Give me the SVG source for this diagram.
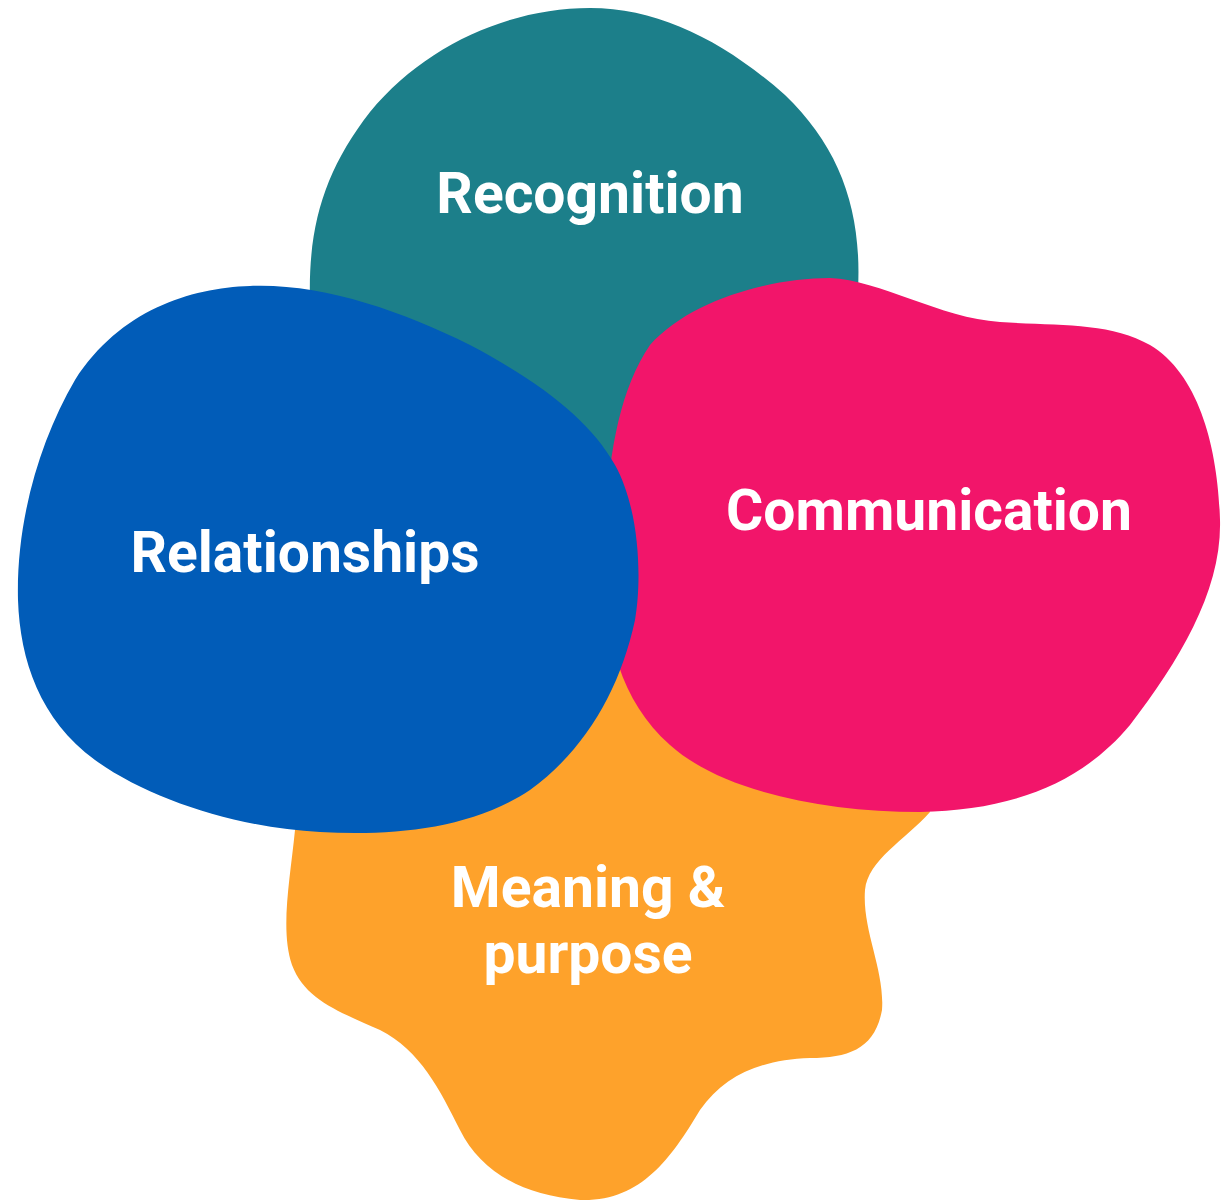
<svg xmlns="http://www.w3.org/2000/svg" width="1224" height="1201" viewBox="0 0 1224 1201">
<style>
.lbl{font-family:Roboto,"Liberation Sans",sans-serif;font-weight:700;font-size:57px;fill:#ffffff;text-anchor:middle}
</style>
<rect width="1224" height="1201" fill="#ffffff"/>
<g id="recognition">
<path fill="#1c7f8a" d="M 310 300 C 308 225, 325 170, 370 112 C 425 45, 510 8, 590 8 C 660 8, 725 42, 785 95 C 840 148, 862 210, 858 290 L 858 420 C 800 500, 620 520, 460 480 C 360 450, 310 400, 310 300 Z"/>
<text class="lbl" x="590" y="213">Recognition</text>
</g>
<g id="meaning">
<path fill="#fea22b" d="M 300 800 L 295 830 C 290 880, 280 930, 292 965 C 305 1000, 340 1012, 380 1030 C 420 1050, 440 1090, 460 1130 C 480 1170, 520 1195, 580 1200 C 640 1202, 670 1160, 700 1110 C 725 1075, 760 1060, 810 1058 C 850 1058, 875 1048, 882 1010 C 885 970, 862 930, 865 890 C 868 860, 905 840, 930 812 L 900 620 L 600 600 Z"/>
<text class="lbl" x="588" y="907">Meaning &amp;</text>
<text class="lbl" x="588" y="973">purpose</text>
</g>
<g id="communication">
<path fill="#f2156a" d="M 830 278 C 880 280, 940 318, 1000 322 C 1060 326, 1110 322, 1150 345 C 1200 375, 1218 450, 1220 520 C 1222 590, 1180 660, 1130 725 C 1080 785, 1010 810, 920 812 C 820 812, 720 790, 670 745 C 620 700, 605 640, 605 560 C 605 490, 612 400, 650 345 C 690 300, 770 278, 830 278 Z"/>
<text class="lbl" x="929" y="530">Communication</text>
</g>
<g id="relationships">
<path fill="#015cb8" d="M 250 286 C 320 283, 400 310, 470 345 C 540 382, 590 420, 615 465 C 640 510, 642 580, 635 620 C 620 690, 585 750, 530 790 C 470 830, 390 836, 320 832 C 240 828, 150 800, 95 760 C 40 720, 20 660, 18 600 C 16 520, 40 440, 75 380 C 120 310, 190 288, 250 286 Z"/>
<text class="lbl" x="305" y="572">Relationships</text>
</g>
<g id="connectors"></g>
</svg>
